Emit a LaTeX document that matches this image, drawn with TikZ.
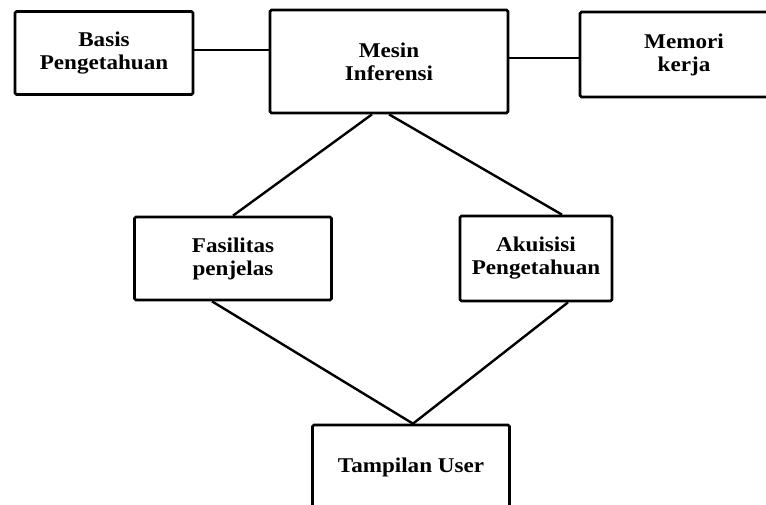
\documentclass[tikz,border=0pt]{standalone}
\usepackage{fontspec}
\setmainfont[FakeStretch=1.1]{Liberation Serif}

\begin{document}
\begin{tikzpicture}[x=1pt, y=-1pt, kotak/.style = {draw, line width=2.7pt, rounded corners=1.5pt, align=center, inner sep=0pt, font=\fontsize{21}{23}\selectfont\bfseries}, garis/.style = {line width=2.4pt}]

    % 1. Ukuran gambar
    \useasboundingbox (0,0) rectangle (766,504);
    \clip (0,0) rectangle (766,504);

    % 2. Kotak-kotak komponen
    \node[kotak, minimum width=178, minimum height=83] (basis) at (104,53) {Basis\\Pengetahuan};
    \node[kotak, minimum width=238, minimum height=103] (mesin) at (389,61.5) {Mesin\\Inferensi};
    \node[kotak, minimum width=208, minimum height=85] (memori) at (684,54.5) {Memori\\kerja};
    \node[kotak, minimum width=197, minimum height=83] (fasilitas) at (233,258.5) {Fasilitas\\penjelas};
    \node[kotak, minimum width=152, minimum height=85] (akuisisi) at (536,258.5) {Akuisisi\\Pengetahuan};
    \node[kotak, minimum width=197, minimum height=90] (tampilan) at (411,470) {\raisebox{10pt}{Tampilan User}};

    % 3. Garis penghubung
    \draw[garis] ([yshift=3pt]basis.east) -- ([yshift=11.5pt]mesin.west);
    \draw[garis] ([yshift=3.5pt]mesin.east) -- ([yshift=-3.5pt]memori.west);
    \draw[garis] ([xshift=-17pt]mesin.south) -- (fasilitas.north);
    \draw[garis] ([xshift=0pt]mesin.south) -- ([xshift=26pt]akuisisi.north);
    \draw[garis] ([xshift=-21pt]fasilitas.south) -- ([xshift=2pt]tampilan.north);
    \draw[garis] ([xshift=32pt]akuisisi.south) -- ([xshift=2pt]tampilan.north);
\end{tikzpicture}
\end{document}
